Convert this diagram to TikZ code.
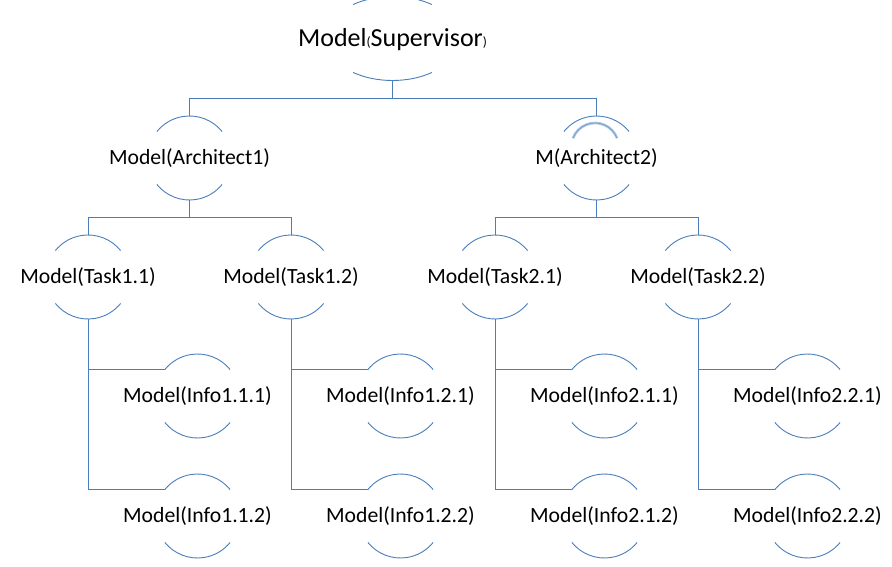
\documentclass[tikz,border=0pt]{standalone}
\usepackage{fontspec}
\setmainfont{Carlito}
\definecolor{ln}{RGB}{74,126,187}
\definecolor{lnlight}{RGB}{170,199,230}
\definecolor{lndark}{RGB}{120,155,200}
\tikzset{
  lbl/.style={inner sep=0pt, text height=13.7pt, text depth=0pt, font=\fontsize{21.7}{26}\selectfont},
  suplbl/.style={inner sep=0pt, text height=16.4pt, text depth=0pt, font=\fontsize{26}{31}\selectfont},
  arcline/.style={draw=ln, line width=0.9pt},
  conn/.style={draw=ln, line width=0.9pt},
}
\newcommand\mnode[4]{%
  \node[lbl] (#1) at (#2,#3) {#4};
  \draw[arcline] ([shift={(39:42pt)}]#1.center) arc[start angle=39,end angle=141,radius=42pt];
  \draw[arcline] ([shift={(219:42pt)}]#1.center) arc[start angle=219,end angle=321,radius=42pt];
  \coordinate (#1-n) at ([yshift=42pt]#1.center);
  \coordinate (#1-s) at ([yshift=-42pt]#1.center);
  \coordinate (#1-w) at ([shift={(141:42pt)}]#1.center);
}
\begin{document}
\begin{tikzpicture}[x=1pt,y=-1pt]
\useasboundingbox (0,0) rectangle (892,567);
\clip (0,0) rectangle (892,567);
\fill[white] (0,0) rectangle (892,567);

% supervisor
\node[suplbl] (sup) at (392.5,38.5) {Model{\fontsize{13.5}{15}\selectfont(}Supervisor{\fontsize{13.5}{15}\selectfont)}};
\draw[arcline] ([shift={(54:67pt and 42pt)}]sup.center) arc[start angle=54,end angle=126,x radius=67pt,y radius=42pt];
\draw[arcline] ([shift={(234:67pt and 42pt)}]sup.center) arc[start angle=234,end angle=306,x radius=67pt,y radius=42pt];
\coordinate (sup-s) at ([yshift=-42pt]sup.center);

% architects
\mnode{a1}{189.5}{158}{Model(Architect1)}
\mnode{a2}{596.5}{158}{M(Architect2)}
\coordinate (a2in) at ([shift={(-1.5pt,11.4pt)}]a2.center);
\draw[lnlight, line width=2.6pt] ([shift={(21:23.6pt)}]a2in) arc[start angle=21,end angle=159,radius=23.6pt];
\draw[lndark, line width=0.7pt] ([shift={(21:23.6pt)}]a2in) arc[start angle=21,end angle=159,radius=23.6pt];

% tasks
\mnode{t11}{88}{277}{Model(Task1.1)}
\mnode{t12}{291}{277}{Model(Task1.2)}
\mnode{t21}{495}{277}{Model(Task2.1)}
\mnode{t22}{698}{277}{Model(Task2.2)}

% infos
\mnode{i111}{197.5}{396}{Model(Info1.1.1)}
\mnode{i112}{197.5}{516}{Model(Info1.1.2)}
\mnode{i121}{400.5}{396}{Model(Info1.2.1)}
\mnode{i122}{400.5}{516}{Model(Info1.2.2)}
\mnode{i211}{604.5}{396}{Model(Info2.1.1)}
\mnode{i212}{604.5}{516}{Model(Info2.1.2)}
\mnode{i221}{807.5}{396}{Model(Info2.2.1)}
\mnode{i222}{807.5}{516}{Model(Info2.2.2)}

% connectors
\coordinate (bus0) at (392.5,98);
\draw[conn] (sup-s) -- (bus0);
\draw[conn] (bus0) -| (a1-n);
\draw[conn] (bus0) -| (a2-n);

\coordinate (bus1) at (189.5,217);
\draw[conn] (a1-s) -- (bus1);
\draw[conn] (bus1) -| (t11-n);
\draw[conn] (bus1) -| (t12-n);

\coordinate (bus2) at (596.5,217);
\draw[conn] (a2-s) -- (bus2);
\draw[conn] (bus2) -| (t21-n);
\draw[conn] (bus2) -| (t22-n);

\draw[conn] (t11-s) |- (i111-w);
\draw[conn] (t11-s) |- (i112-w);
\draw[conn] (t12-s) |- (i121-w);
\draw[conn] (t12-s) |- (i122-w);
\draw[conn] (t21-s) |- (i211-w);
\draw[conn] (t21-s) |- (i212-w);
\draw[conn] (t22-s) |- (i221-w);
\draw[conn] (t22-s) |- (i222-w);
\end{tikzpicture}
\end{document}
